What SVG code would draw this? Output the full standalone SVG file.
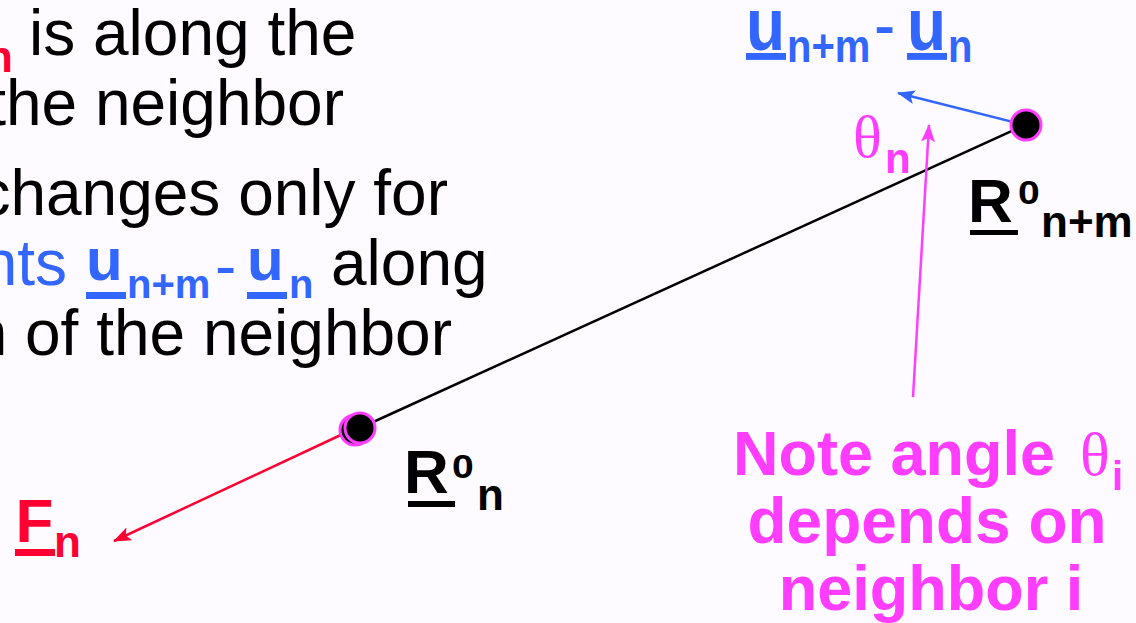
<svg xmlns="http://www.w3.org/2000/svg" width="1136" height="623" viewBox="0 0 1136 623">
<style>
.t{font-family:"Liberation Sans",Arial,sans-serif;font-size:64px}
.b{font-family:"Liberation Sans",Arial,sans-serif;font-weight:bold}
.g{font-family:"Liberation Serif","Times New Roman",serif}
.k{fill:#000}
.bl{fill:#3366FF}
.rd{fill:#FF0033}
.mg{fill:#FF3DFF}
</style>
<defs>
<marker id="ab" markerUnits="userSpaceOnUse" markerWidth="18" markerHeight="14" viewBox="0 0 18 14" refX="17" refY="7" orient="auto"><path d="M0,0 L18,7 L0,14 L4,7 z" fill="#3366FF"/></marker>
<marker id="ar" markerUnits="userSpaceOnUse" markerWidth="18" markerHeight="14" viewBox="0 0 18 14" refX="17" refY="7" orient="auto"><path d="M0,0 L18,7 L0,14 L4,7 z" fill="#FF0033"/></marker>
<marker id="am" markerUnits="userSpaceOnUse" markerWidth="18" markerHeight="14" viewBox="0 0 18 14" refX="17" refY="7" orient="auto"><path d="M0,0 L18,7 L0,14 L4,7 z" fill="#FF3DFF"/></marker>
</defs>
<rect width="1136" height="623" fill="#FDFBFF"/>

<g id="text-block">
<text class="b rd" x="-14" y="72" font-size="44">n</text>
<text class="t k" x="29" y="55">is along the</text>
<text class="t k" x="344" y="125" text-anchor="end">the neighbor</text>
<text class="t k" x="448" y="215" text-anchor="end">changes only for</text>
<text class="t bl" x="67" y="285" text-anchor="end">nts</text>
<text class="b bl" x="86" y="280" font-size="60">u</text>
<rect x="86" y="292" width="40" height="7" fill="#3366FF"/>
<text class="b bl" x="127" y="298" font-size="40">n+m</text>
<text class="t bl" x="215" y="288">-</text>
<text class="b bl" x="247" y="280" font-size="60">u</text>
<rect x="247" y="292" width="40" height="7" fill="#3366FF"/>
<text class="b bl" x="289" y="298" font-size="40">n</text>
<text class="t k" x="331" y="285">along</text>
<text class="t k" x="452" y="355" text-anchor="end">n of the neighbor</text>
</g>

<g id="connectors" fill="none" stroke-width="2.5">
<line x1="360" y1="428" x2="1025" y2="125" stroke="#000"/>
<line x1="1025" y1="125" x2="898" y2="93" stroke="#3366FF" marker-end="url(#ab)"/>
<line x1="345" y1="433" x2="114" y2="541" stroke="#FF0033" marker-end="url(#ar)"/>
<line x1="913" y1="397" x2="929" y2="125" stroke="#FF3DFF" marker-end="url(#am)"/>
</g>

<g id="node-Rn">
<circle cx="355" cy="430" r="15" fill="#000" stroke="#FF3DFF" stroke-width="3"/>
<circle cx="360" cy="428" r="15" fill="#000" stroke="#FF3DFF" stroke-width="3"/>
</g>
<g id="node-Rnm">
<circle cx="1026" cy="125" r="15" fill="#000" stroke="#FF3DFF" stroke-width="3"/>
</g>

<g id="label-u" transform="matrix(1,0,0,1.15,0,-7.5)">
<text class="b bl" x="746" y="50" font-size="64">u</text>
<rect x="746" y="52.6" width="40" height="6" fill="#3366FF"/>
<text class="b bl" x="787" y="60.4" font-size="40">n+m</text>
<text class="t bl" x="874" y="50" font-size="62">-</text>
<text class="b bl" x="907" y="50" font-size="64">u</text>
<rect x="907" y="52.6" width="40" height="6" fill="#3366FF"/>
<text class="b bl" x="948" y="60.4" font-size="40">n</text>
</g>

<g id="label-theta">
<text class="g mg" x="853" y="157" font-size="60">θ</text>
<text class="b mg" x="885" y="173" font-size="42">n</text>
</g>

<g id="label-Rnm">
<text class="b k" x="968" y="222" font-size="62">R</text>
<rect x="970" y="230" width="48" height="5" fill="#000"/>
<text class="b k" font-size="34" transform="translate(1018,204) scale(1.15,1)">0</text>
<text class="b k" x="1041" y="237" font-size="44">n+m</text>
</g>

<g id="label-Rn">
<text class="b k" x="404" y="493" font-size="62">R</text>
<rect x="408" y="501" width="47" height="6" fill="#000"/>
<text class="b k" font-size="34" transform="translate(452,478) scale(1.15,1)">0</text>
<text class="b k" x="477" y="510" font-size="44">n</text>
</g>

<g id="label-F">
<text class="b rd" x="15.5" y="542" font-size="62">F</text>
<rect x="15" y="549" width="40" height="7" fill="#FF0033"/>
<text class="b rd" x="54" y="557" font-size="44">n</text>
</g>

<g id="note">
<text class="b mg" x="733" y="475" font-size="63">Note angle</text>
<text class="g mg" x="1080" y="475" font-size="62">θ</text>
<text class="b mg" x="1112" y="490" font-size="40">i</text>
<text class="b mg" x="927" y="543" font-size="64" text-anchor="middle">depends on</text>
<text class="b mg" x="931" y="610" font-size="63" text-anchor="middle">neighbor i</text>
</g>
</svg>
